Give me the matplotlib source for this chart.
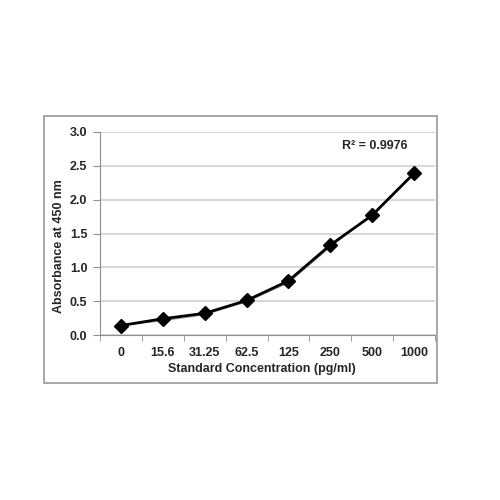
import matplotlib
matplotlib.use("Agg")
import matplotlib.pyplot as plt
from matplotlib.patches import Rectangle
from matplotlib.ticker import FixedLocator

plt.rcParams['font.family'] = ['Liberation Sans', 'DejaVu Sans']

categories = ["0", "15.6", "31.25", "62.5", "125", "250", "500", "1000"]
absorbance = [0.14, 0.24, 0.32, 0.51, 0.80, 1.33, 1.77, 2.39]
trend = [0.14, 0.21, 0.30, 0.49, 0.77, 1.30, 1.78, 2.39]
yticks = [0, 0.5, 1.0, 1.5, 2.0, 2.5, 3.0]
r2_text = "R² = 0.9976"

FS = 9
TXT = '#262626'

fig = plt.figure(figsize=(5, 5), dpi=100)
fig.patches.append(Rectangle((0.088, 0.234), 0.786, 0.534, transform=fig.transFigure,
                             fill=False, edgecolor='#a0a0a0', linewidth=1.3))
ax = fig.add_axes([0.2, 0.33, 0.67, 0.406])

x = list(range(len(categories)))
ax.plot(x, trend, color='#999999', linewidth=0.8, zorder=2)
ax.plot(x, absorbance, color='black', linewidth=2.0, marker='D', markersize=7.5, zorder=3)

ax.set_xlim(-0.5, len(categories) - 0.5)
ax.set_ylim(0, 3.0)
ax.set_yticks(yticks)
ax.set_yticklabels([f"{v:.1f}" for v in yticks])
ax.set_xticks(x)
ax.set_xticklabels(categories)
ax.xaxis.set_minor_locator(FixedLocator([i - 0.5 for i in range(len(categories) + 1)]))
ax.tick_params(axis='x', which='major', length=0, pad=9)
ax.tick_params(axis='x', which='minor', length=4, color='#909090')
ax.tick_params(axis='y', length=5, color='#909090', pad=4)
for lab in ax.get_xticklabels() + ax.get_yticklabels():
    lab.set_fontsize(FS)
    lab.set_fontweight('bold')
    lab.set_color(TXT)

ax.grid(axis='y', color='#d0d0d0', linewidth=1.2)
ax.set_axisbelow(True)
for s in ['top', 'right']:
    ax.spines[s].set_visible(False)
ax.spines['left'].set_color('#909090')
ax.spines['bottom'].set_color('#909090')

ax.set_xlabel("Standard Concentration (pg/ml)", fontsize=FS, fontweight='bold', color=TXT)
ax.xaxis.set_label_coords(0.484, -0.138)
ax.set_ylabel("Absorbance at 450 nm", fontsize=FS, fontweight='bold', color=TXT)
ax.yaxis.set_label_coords(-0.105, 0.44)
ax.text(0.82, 0.93, r2_text, transform=ax.transAxes, ha='center', va='center',
        fontsize=FS, fontweight='bold', color=TXT)

fig.savefig("out.png", dpi=100)
